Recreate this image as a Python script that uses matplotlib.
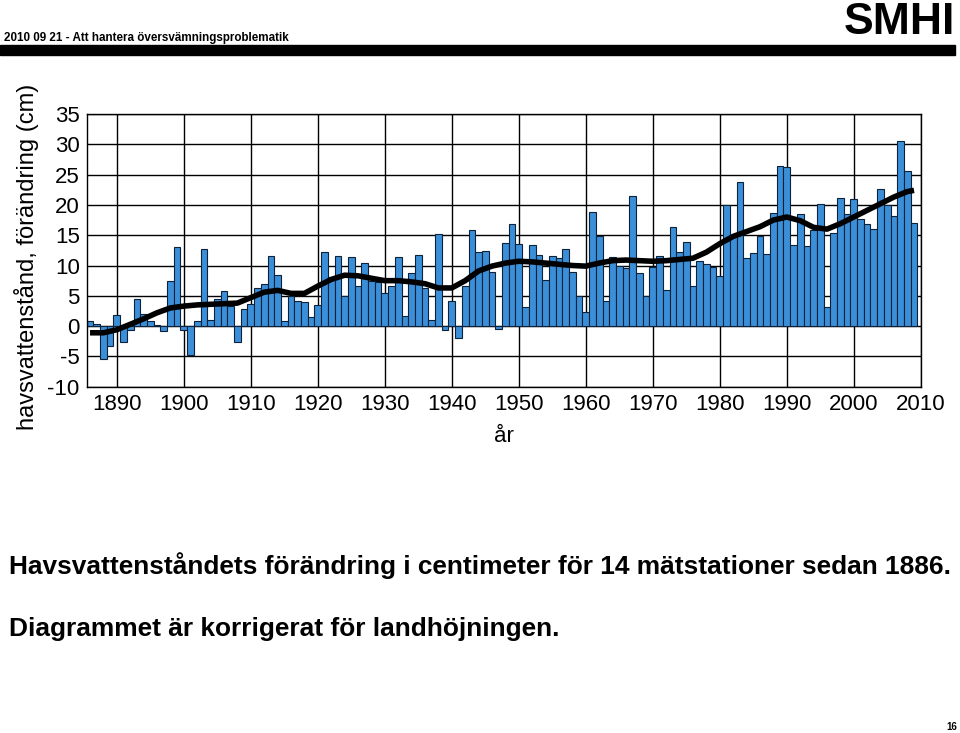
import matplotlib
matplotlib.use("Agg")
import matplotlib.pyplot as plt

plt.rcParams['font.family'] = ['Liberation Sans', 'DejaVu Sans']
plt.rcParams['axes.unicode_minus'] = False

# Årliga värden (cm), 1886-2009
years = list(range(1886, 2010))
values = [
    0.8, 0.3, -5.4, -3.2, 1.8, -2.7, -0.7, 4.5, 2.0, 0.9,
    0.2, -0.8, 7.5, 13.0, -0.7, -4.7, 0.8, 12.8, 1.0, 4.5,
    5.8, 3.4, -2.7, 2.8, 3.7, 6.3, 7.0, 11.6, 8.5, 0.8,
    4.9, 4.2, 4.0, 1.5, 3.5, 12.3, 8.1, 11.5, 5.0, 11.4,
    6.6, 10.4, 7.5, 7.3, 5.5, 6.6, 11.4, 1.6, 8.8, 11.8,
    6.3, 1.0, 15.2, -0.7, 4.2, -1.9, 6.7, 15.8, 12.3, 12.4,
    8.9, -0.5, 13.7, 16.9, 13.5, 3.2, 13.4, 11.8, 7.6, 11.5,
    11.3, 12.8, 8.9, 4.9, 2.4, 18.9, 14.9, 4.1, 11.4, 9.9,
    9.6, 21.4, 8.8, 4.9, 9.8, 11.5, 6.0, 16.4, 12.3, 13.9,
    6.6, 10.8, 10.3, 9.8, 8.2, 20.0, 14.9, 23.7, 11.3, 12.0,
    14.8, 11.9, 18.6, 26.5, 26.2, 13.4, 18.5, 13.2, 15.9, 20.2,
    3.2, 15.4, 21.2, 18.5, 21.0, 17.6, 16.8, 16.1, 22.6, 20.0,
    18.2, 30.5, 25.6, 17.0,
]

# Utjämnad kurva
smooth_years = [1886, 1888, 1890, 1892, 1894, 1896, 1898, 1900, 1902, 1904,
                1906, 1908, 1910, 1912, 1914, 1916, 1918, 1920, 1922, 1924,
                1926, 1928, 1930, 1932, 1934, 1936, 1938, 1940, 1942, 1944,
                1946, 1948, 1950, 1952, 1954, 1956, 1958, 1960, 1962, 1964,
                1966, 1968, 1970, 1972, 1974, 1976, 1978, 1980, 1982, 1984,
                1986, 1988, 1990, 1992, 1994, 1996, 1998, 2000, 2002, 2004,
                2006, 2008, 2009]
smooth_values = [-1.1, -1.1, -0.6, 0.3, 1.2, 2.2, 3.0, 3.3, 3.5, 3.6,
                 3.7, 3.8, 4.7, 5.6, 5.9, 5.4, 5.4, 6.6, 7.7, 8.4,
                 8.3, 7.9, 7.5, 7.5, 7.3, 7.0, 6.3, 6.3, 7.5, 9.1,
                 9.9, 10.4, 10.7, 10.6, 10.4, 10.2, 10.0, 9.9, 10.4, 10.8,
                 10.9, 10.8, 10.7, 10.8, 11.0, 11.2, 12.2, 13.6, 14.8, 15.6,
                 16.4, 17.5, 18.0, 17.4, 16.3, 16.0, 16.9, 18.0, 19.1, 20.2,
                 21.3, 22.2, 22.4]

y_ticks = [-10, -5, 0, 5, 10, 15, 20, 25, 30, 35]
x_ticks = list(range(1890, 2011, 10))

fig = plt.figure(figsize=(9.6, 7.33), dpi=100)
ax = fig.add_axes([0.0903, 0.4724, 0.8688, 0.3721])

ax.bar(years, values, width=1.0, color='#3b8fd8', edgecolor='#0d2238',
       linewidth=0.8, zorder=2)
ax.plot(smooth_years, smooth_values, color='black', linewidth=4,
        solid_capstyle='butt', zorder=3)

ax.set_xlim(1885.5, 2010)
ax.set_ylim(-10, 35)
ax.set_xticks(x_ticks)
ax.set_yticks(y_ticks)
ax.grid(True, color='black', linewidth=1.0, zorder=0)
ax.set_axisbelow(True)
ax.tick_params(length=0, labelsize=16, pad=5)
for s in ax.spines.values():
    s.set_linewidth(1.0)

ax.set_xlabel('år', fontsize=16, labelpad=8)
fig.text(0.028, 0.649, 'havsvattenstånd, förändring (cm)', rotation=90,
         fontsize=17, ha='center', va='center')

# sidhuvud
fig.text(0.004, 0.948, '2010 09 21 - Att hantera översvämningsproblematik',
         fontsize=8.4, fontweight='bold', ha='left', va='center')
fig.add_artist(plt.Rectangle((0.0, 0.925), 0.995, 0.013,
                             transform=fig.transFigure, color='black'))
fig.text(0.995, 0.969, 'SMHI', fontsize=32, fontweight='heavy',
         ha='right', va='center', fontstretch='condensed')

# bildtext
fig.text(0.009, 0.229,
         'Havsvattenståndets förändring i centimeter för 14 mätstationer sedan 1886.',
         fontsize=18.9, fontweight='bold', ha='left', va='center')
fig.text(0.009, 0.142, 'Diagrammet är korrigerat för landhöjningen.',
         fontsize=18.9, fontweight='bold', ha='left', va='center')
fig.text(0.997, 0.002, '16', fontsize=7, fontweight='bold',
         ha='right', va='bottom')

fig.savefig('out.png', dpi=100)
